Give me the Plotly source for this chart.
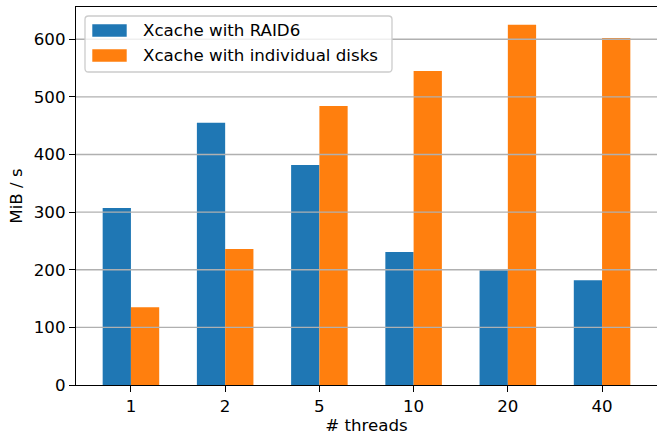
import plotly.graph_objects as go

threads = ["1", "2", "5", "10", "20", "40"]
raid6 = [307, 455, 382, 231, 199, 182]
individual = [135, 236, 484, 545, 625, 602]
y_ticks = [0, 100, 200, 300, 400, 500, 600]
series_names = ["Xcache with RAID6", "Xcache with individual disks"]
series_colors = ["#1f77b4", "#ff7f0e"]

FONT = "DejaVu Sans"
FS = 16.67

# plot area in pixels
W, H = 657, 435
L, R, T, B = 76, 0, 7, 50
PW, PH = W - L - R, H - T - B


def px(x):
    return (x - L) / PW


def py(y):
    return (H - B - y) / PH


fig = go.Figure()
for name, vals, col in zip(series_names, [raid6, individual], series_colors):
    fig.add_trace(go.Bar(x=threads, y=vals, name=name, showlegend=False,
                         marker=dict(color=col, line=dict(width=0))))

# gridlines drawn above bars (as in reference)
for t in y_ticks[1:]:
    fig.add_shape(type="line", xref="paper", x0=0, x1=1, yref="y", y0=t, y1=t,
                  line=dict(color="#b0b0b0", width=1.3), layer="above")

# matplotlib-style legend box (rounded)
bx0, bx1, by0, by1 = 85, 392, 16, 72
r = 3.5
rx, ry = r / PW, r / PH
X0, X1, Y0, Y1 = px(bx0), px(bx1), py(by1), py(by0)
path = (f"M {X0+rx},{Y0} L {X1-rx},{Y0} Q {X1},{Y0} {X1},{Y0+ry} "
        f"L {X1},{Y1-ry} Q {X1},{Y1} {X1-rx},{Y1} "
        f"L {X0+rx},{Y1} Q {X0},{Y1} {X0},{Y1-ry} "
        f"L {X0},{Y0+ry} Q {X0},{Y0} {X0+rx},{Y0} Z")
fig.add_shape(type="path", xref="paper", yref="paper", path=path,
              fillcolor="rgba(255,255,255,0.8)", line=dict(color="#cccccc", width=1.3),
              layer="above")

rows = [(24.3, 36.7, 30.5), (49.3, 61.7, 55.5)]
for (t0, t1, tc), name, col in zip(rows, series_names, series_colors):
    fig.add_shape(type="rect", xref="paper", yref="paper",
                  x0=px(92.3), x1=px(126.7), y0=py(t1), y1=py(t0),
                  fillcolor=col, line=dict(width=0), layer="above")
    fig.add_annotation(xref="paper", yref="paper", x=px(141), y=py(tc),
                       xanchor="left", yanchor="middle", text=name, showarrow=False,
                       font=dict(family=FONT, size=FS, color="black"))

fig.update_layout(
    width=W, height=H,
    margin=dict(l=L, r=R, t=T, b=B, autoexpand=False),
    plot_bgcolor="white", paper_bgcolor="white",
    barmode="group", bargap=0.4, bargroupgap=0,
    font=dict(family=FONT, size=FS, color="black"),
    showlegend=False,
    xaxis=dict(type="category", range=[-0.583, 5.583],
               showline=True, linecolor="black", linewidth=1.3, mirror=True,
               ticks="outside", ticklen=6, tickwidth=1.3, tickcolor="black",
               showgrid=False, automargin=False,
               title=dict(text="# threads", font=dict(size=FS), standoff=8),
               tickfont=dict(size=FS)),
    yaxis=dict(range=[0, 656], tickvals=y_ticks,
               showline=True, linecolor="black", linewidth=1.3,
               ticks="outside", ticklen=6, tickwidth=1.3, tickcolor="black",
               showgrid=False, zeroline=False, automargin=False,
               title=dict(text="MiB / s", font=dict(size=FS), standoff=6),
               tickfont=dict(size=FS)),
)

fig.write_html("out.html", config={"displayModeBar": False},
               post_script="document.body.style.margin='0';document.body.style.overflow='hidden';")
